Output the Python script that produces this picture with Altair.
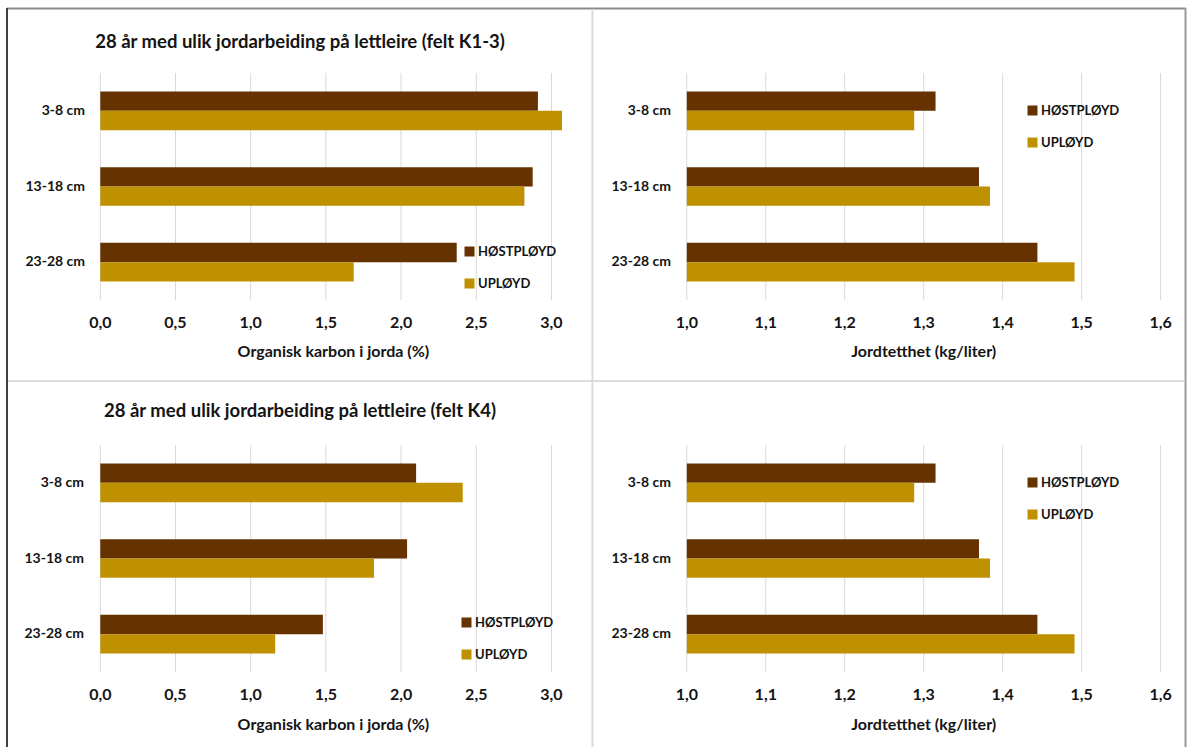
import altair as alt
import pandas as pd

# ---- data -----------------------------------------------------------------
depths = ["3-8 cm", "13-18 cm", "23-28 cm"]
series = ["HØSTPLØYD", "UPLØYD"]
series_colors = ["#663300", "#BF9000"]

# Organisk karbon (%), felt K1-3
carbon_k13_host = [2.91, 2.875, 2.37]
carbon_k13_uplo = [3.07, 2.82, 1.685]
# Jordtetthet (kg/liter), felt K1-3
density_k13_host = [1.315, 1.370, 1.444]
density_k13_uplo = [1.288, 1.384, 1.491]
# Organisk karbon (%), felt K4
carbon_k4_host = [2.10, 2.04, 1.48]
carbon_k4_uplo = [2.41, 1.82, 1.163]
# Jordtetthet (kg/liter), felt K4
density_k4_host = [1.315, 1.370, 1.444]
density_k4_uplo = [1.288, 1.384, 1.491]

carbon_ticks = [0.0, 0.5, 1.0, 1.5, 2.0, 2.5, 3.0]
carbon_tick_labels = ["0,0", "0,5", "1,0", "1,5", "2,0", "2,5", "3,0"]
density_ticks = [1.0, 1.1, 1.2, 1.3, 1.4, 1.5, 1.6]
density_tick_labels = ["1,0", "1,1", "1,2", "1,3", "1,4", "1,5", "1,6"]

title_k13 = "28 år med ulik jordarbeiding på lettleire (felt K1-3)"
title_k4 = "28 år med ulik jordarbeiding på lettleire (felt K4)"
carbon_title = "Organisk karbon i jorda (%)"
density_title = "Jordtetthet (kg/liter)"

# ---- styling --------------------------------------------------------------
W, H = 1188, 747
FONT = "Lato"
TEXT = "#141414"
GRID = "#d9d9d9"
ONE = alt.Data(values=[{}])


def panel(host, uplo, xdomain, xrange, ticks, tick_labels, ytop, ybot,
          label_x, tick_y, axis_title, axis_title_y, legend_x, legend_y,
          title=None, title_y=None):
    bars_df = pd.DataFrame({
        "Dybde": depths * 2,
        "Behandling": [series[0]] * 3 + [series[1]] * 3,
        "Verdi": host + uplo,
        "Basis": [xdomain[0]] * 6,
    })
    ticks_df = pd.DataFrame({"t": ticks, "lab": tick_labels})
    depth_df = pd.DataFrame({"Dybde": depths})

    xs = alt.Scale(domain=xdomain, range=xrange, nice=False, zero=False)
    ys = alt.Scale(domain=depths, range=[ytop, ybot],
                   paddingInner=0.49, paddingOuter=0.245)

    grid = alt.Chart(ticks_df).mark_rule(color=GRID, strokeWidth=1).encode(
        x=alt.X("t:Q", scale=xs, axis=None),
        y=alt.value(ytop), y2=alt.value(ybot),
    )
    bars = alt.Chart(bars_df).mark_bar().encode(
        y=alt.Y("Dybde:N", scale=ys, axis=None, sort=depths),
        yOffset=alt.YOffset("Behandling:N", sort=series),
        x=alt.X("Verdi:Q", scale=xs, axis=None),
        x2="Basis:Q",
        color=alt.Color(
            "Behandling:N",
            scale=alt.Scale(domain=series, range=series_colors),
            legend=alt.Legend(
                title=None, orient="none", legendX=legend_x, legendY=legend_y,
                symbolType="square", symbolSize=100, symbolStrokeWidth=0,
                labelFont=FONT, labelFontSize=13, labelFontWeight="bold",
                labelColor=TEXT, rowPadding=18, labelOffset=2, padding=0,
            ),
        ),
    )
    cat_labels = alt.Chart(depth_df).mark_text(
        align="right", baseline="middle", font=FONT, fontSize=14,
        fontWeight="bold", color=TEXT,
    ).encode(
        y=alt.Y("Dybde:N", scale=ys, axis=None, sort=depths),
        x=alt.value(label_x),
        text="Dybde:N",
    )
    tick_text = alt.Chart(ticks_df).mark_text(
        align="center", baseline="middle", font=FONT, fontSize=16,
        fontWeight="bold", color=TEXT,
    ).encode(
        x=alt.X("t:Q", scale=xs, axis=None),
        y=alt.value(tick_y),
        text="lab:N",
    )
    ax_title = alt.Chart(ONE).mark_text(
        text=axis_title, align="center", baseline="middle", font=FONT,
        fontSize=16, fontWeight="bold", color=TEXT,
    ).encode(x=alt.value((xrange[0] + xrange[1]) / 2), y=alt.value(axis_title_y))

    layers = [grid, bars, cat_labels, tick_text, ax_title]
    if title:
        layers.append(alt.Chart(ONE).mark_text(
            text=title, align="center", baseline="middle", font=FONT,
            fontSize=18.5, fontWeight="bold", color=TEXT,
        ).encode(x=alt.value(300), y=alt.value(title_y)))
    return alt.layer(*layers)


carbon_range = [100.3, 566.5]
density_range = [686.8, 1160.6]

p1 = panel(carbon_k13_host, carbon_k13_uplo, [0, 3.1], carbon_range,
           carbon_ticks, carbon_tick_labels, 73, 300, 85, 323,
           carbon_title, 352, 463, 245, title_k13, 42)
p2 = panel(density_k13_host, density_k13_uplo, [1.0, 1.6], density_range,
           density_ticks, density_tick_labels, 73, 300, 671, 323,
           density_title, 352, 1026, 104)
p3 = panel(carbon_k4_host, carbon_k4_uplo, [0, 3.1], carbon_range,
           carbon_ticks, carbon_tick_labels, 445, 672, 84, 695,
           carbon_title, 725, 460, 616, title_k4, 411)
p4 = panel(density_k4_host, density_k4_uplo, [1.0, 1.6], density_range,
           density_ticks, density_tick_labels, 445, 672, 671, 695,
           density_title, 725, 1026, 476)

# ---- frame around and between the four panels ------------------------------
frame = [
    alt.Chart(ONE).mark_rule(color="#8c8c8c", strokeWidth=2).encode(
        x=alt.value(7), x2=alt.value(1186), y=alt.value(8.5)),
    alt.Chart(ONE).mark_rule(color="#404040", strokeWidth=2).encode(
        x=alt.value(7), y=alt.value(8), y2=alt.value(747)),
    alt.Chart(ONE).mark_rule(color="#9a9a9a", strokeWidth=2).encode(
        x=alt.value(1185.5), y=alt.value(8), y2=alt.value(747)),
    alt.Chart(ONE).mark_rule(color="#dcdcdc", strokeWidth=2).encode(
        x=alt.value(592.5), y=alt.value(9), y2=alt.value(747)),
    alt.Chart(ONE).mark_rule(color="#dcdcdc", strokeWidth=2).encode(
        x=alt.value(8), x2=alt.value(1185), y=alt.value(381)),
]

chart = alt.layer(*frame, p1, p2, p3, p4).resolve_scale(
    x="independent", y="independent", yOffset="independent", color="independent",
).properties(
    width=W, height=H, padding=0, background="white",
    autosize=alt.AutoSizeParams(type="none"),
).configure_view(stroke=None)

chart.save("out.html", embed_options={"renderer": "svg", "actions": False})
